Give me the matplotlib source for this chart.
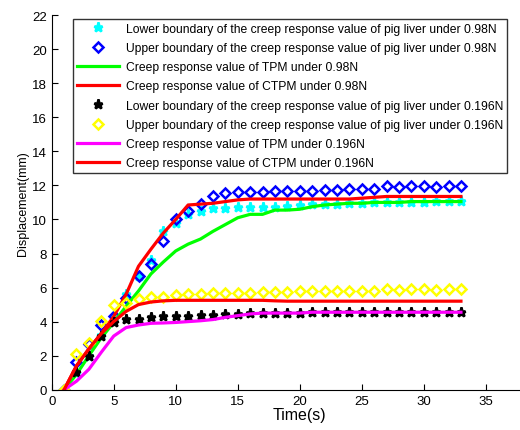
import numpy as np
import matplotlib
matplotlib.use("Agg")
import matplotlib.pyplot as plt

plt.rcParams['font.family'] = ['Liberation Sans', 'DejaVu Sans']

# time axis, one sample per second
t = np.arange(1, 34)

# 0.98N series
lower_098 = [0, 1.0, 2.0, 3.2, 4.3, 5.6, 6.7, 7.6, 9.3, 9.8, 10.3, 10.5, 10.65, 10.7, 10.72,
             10.75, 10.75, 10.75, 10.8, 10.85, 10.9, 10.9, 10.9, 10.95, 10.95, 11.0, 11.0,
             11.0, 11.05, 11.05, 11.1, 11.1, 11.1]
upper_098 = [0, 1.6, 2.7, 3.8, 4.35, 5.4, 6.65, 7.4, 8.75, 10.05, 10.5, 10.9, 11.35, 11.55, 11.6,
             11.6, 11.6, 11.65, 11.65, 11.7, 11.7, 11.75, 11.75, 11.8, 11.8, 11.8, 11.95,
             11.9, 11.95, 11.95, 11.9, 11.95, 11.95]
tpm_098 = [0, 0.9, 2.0, 3.05, 3.95, 4.9, 5.8, 6.8, 7.5, 8.15, 8.55, 8.85, 9.3, 9.7, 10.1,
           10.3, 10.3, 10.55, 10.55, 10.6, 10.75, 10.85, 10.9, 10.95, 10.95, 11.0, 11.0,
           11.0, 11.05, 11.05, 11.05, 11.05, 11.05]
ctpm_098 = [0, 1.4, 2.4, 3.3, 4.3, 5.6, 7.25, 8.25, 9.2, 10.0, 10.85, 10.9, 10.95, 11.05, 11.15,
            11.2, 11.2, 11.2, 11.2, 11.2, 11.2, 11.2, 11.2, 11.2, 11.25, 11.3, 11.35,
            11.35, 11.35, 11.35, 11.35, 11.35, 11.35]

# 0.196N series
lower_0196 = [0, 1.05, 2.0, 3.15, 3.95, 4.15, 4.15, 4.25, 4.3, 4.3, 4.35, 4.4, 4.4, 4.45, 4.45,
              4.5, 4.5, 4.5, 4.5, 4.5, 4.55, 4.55, 4.55, 4.55, 4.55, 4.55, 4.55,
              4.55, 4.55, 4.55, 4.55, 4.55, 4.55]
upper_0196 = [0, 2.1, 2.75, 4.05, 5.0, 5.1, 5.3, 5.45, 5.45, 5.55, 5.62, 5.62, 5.68, 5.68, 5.68,
              5.68, 5.72, 5.72, 5.75, 5.78, 5.8, 5.8, 5.8, 5.8, 5.8, 5.82, 5.9,
              5.85, 5.9, 5.9, 5.88, 5.9, 5.9]
tpm_0196 = [0, 0.5, 1.2, 2.2, 3.15, 3.65, 3.8, 3.9, 3.92, 3.95, 4.0, 4.05, 4.12, 4.25, 4.35,
            4.45, 4.5, 4.5, 4.5, 4.5, 4.55, 4.55, 4.55, 4.55, 4.55, 4.55, 4.55,
            4.55, 4.55, 4.55, 4.55, 4.55, 4.55]
ctpm_0196 = [0, 1.4, 2.4, 3.3, 4.0, 4.6, 5.0, 5.15, 5.22, 5.25, 5.25, 5.25, 5.25, 5.25, 5.25,
             5.25, 5.25, 5.22, 5.2, 5.2, 5.2, 5.2, 5.2, 5.2, 5.2, 5.2, 5.2,
             5.2, 5.2, 5.2, 5.2, 5.2, 5.2]

labels = ['Lower boundary of the creep response value of pig liver under 0.98N',
          'Upper boundary of the creep response value of pig liver under 0.98N',
          'Creep response value of TPM under 0.98N',
          'Creep response value of CTPM under 0.98N',
          'Lower boundary of the creep response value of pig liver under 0.196N',
          'Upper boundary of the creep response value of pig liver under 0.196N',
          'Creep response value of TPM under 0.196N',
          'Creep response value of CTPM under 0.196N']

fig = plt.figure(figsize=(5.2, 4.31), dpi=100)
ax = fig.add_axes([0.0994, 0.0935, 0.954, 0.869])

lw = 2.3
ax.plot(t, lower_098, ls='none', marker='*', ms=6.5, mew=1.8, color='#00ffff', label=labels[0])
ax.plot(t, upper_098, ls='none', marker='D', ms=5, mew=1.8, mfc='none', color='#0000ff', label=labels[1])
ax.plot(t, tpm_098, color='#00ff00', lw=lw, label=labels[2])
ax.plot(t, ctpm_098, color='#ff0000', lw=lw, label=labels[3])
ax.plot(t, lower_0196, ls='none', marker='*', ms=6.5, mew=1.8, color='black', label=labels[4])
ax.plot(t, upper_0196, ls='none', marker='D', ms=5, mew=1.8, mfc='none', color='#ffff00', label=labels[5])
ax.plot(t, tpm_0196, color='#ff00ff', lw=lw, label=labels[6])
ax.plot(t, ctpm_0196, color='#ff0000', lw=lw, label=labels[7])

ax.set_xlim(0, 40)
ax.set_ylim(0, 22)
ax.set_xticks(np.arange(0, 36, 5))
ax.set_yticks(np.arange(0, 23, 2))
ax.tick_params(direction='in', labelsize=9.5, length=4, width=0.8)
ax.spines['top'].set_visible(False)
ax.spines['right'].set_visible(False)
ax.set_xlabel('Time(s)', fontsize=11.5, labelpad=0)
ax.set_ylabel('Displacement(mm)', fontsize=9, labelpad=2)

leg = ax.legend(loc='upper left', bbox_to_anchor=(0.043, 0.99), fontsize=8.7,
                frameon=True, fancybox=False, edgecolor='black', borderpad=0.3,
                labelspacing=0.6, handlelength=3.5, handletextpad=0.6, borderaxespad=0)
leg.get_frame().set_linewidth(1.0)

fig.savefig('out.png', dpi=100)
